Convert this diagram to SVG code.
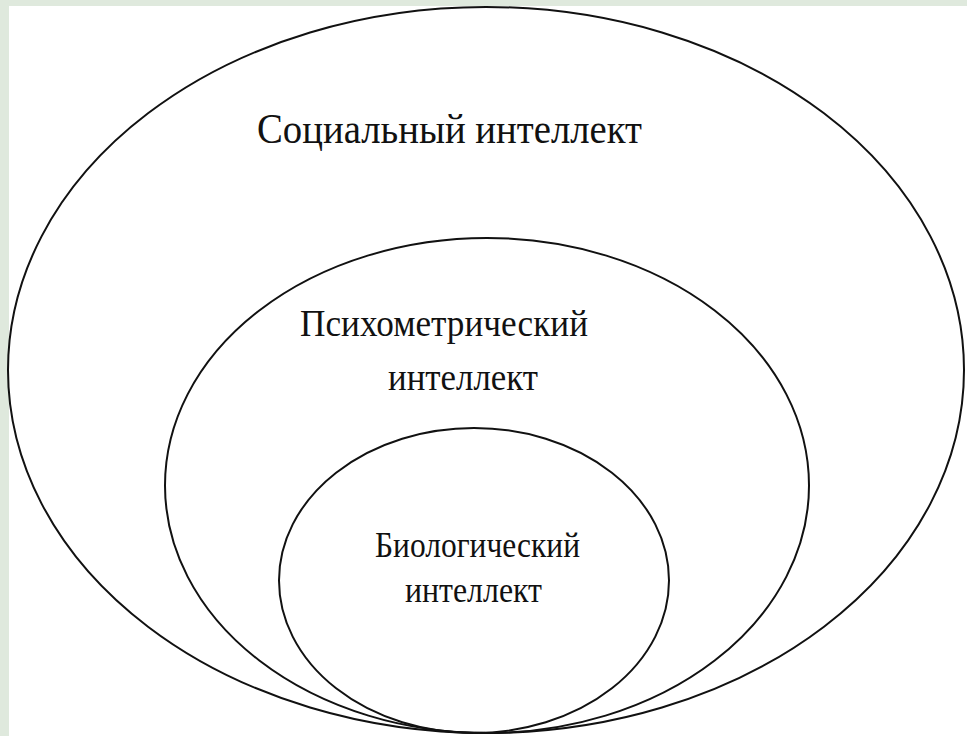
<svg xmlns="http://www.w3.org/2000/svg" width="967" height="736" viewBox="0 0 967 736">
<style>
.ring{fill:none;stroke:#111;stroke-width:2}
.lbl{font-family:"Liberation Serif","Times New Roman",serif;fill:#111}
</style>
<rect x="0" y="0" width="967" height="736" fill="#dfe9dd"/>
<rect x="9" y="6" width="958" height="730" fill="#ffffff"/>
<g id="social">
<ellipse class="ring" cx="486" cy="370" rx="478" ry="363"/>
<text class="lbl" x="257" y="143" font-size="42" textLength="385" lengthAdjust="spacingAndGlyphs">Социальный интеллект</text>
</g>
<g id="psychometric">
<ellipse class="ring" cx="487" cy="485.5" rx="322" ry="247.5"/>
<text class="lbl" x="300" y="336" font-size="38" textLength="288" lengthAdjust="spacingAndGlyphs">Психометрический</text>
<text class="lbl" x="388" y="390" font-size="38" textLength="150" lengthAdjust="spacingAndGlyphs">интеллект</text>
</g>
<g id="biological">
<ellipse class="ring" cx="474" cy="580.5" rx="195" ry="152.5"/>
<text class="lbl" x="375" y="557" font-size="36" textLength="205" lengthAdjust="spacingAndGlyphs">Биологический</text>
<text class="lbl" x="405" y="602" font-size="36" textLength="137" lengthAdjust="spacingAndGlyphs">интеллект</text>
</g>
<g id="connectors"></g>
</svg>
